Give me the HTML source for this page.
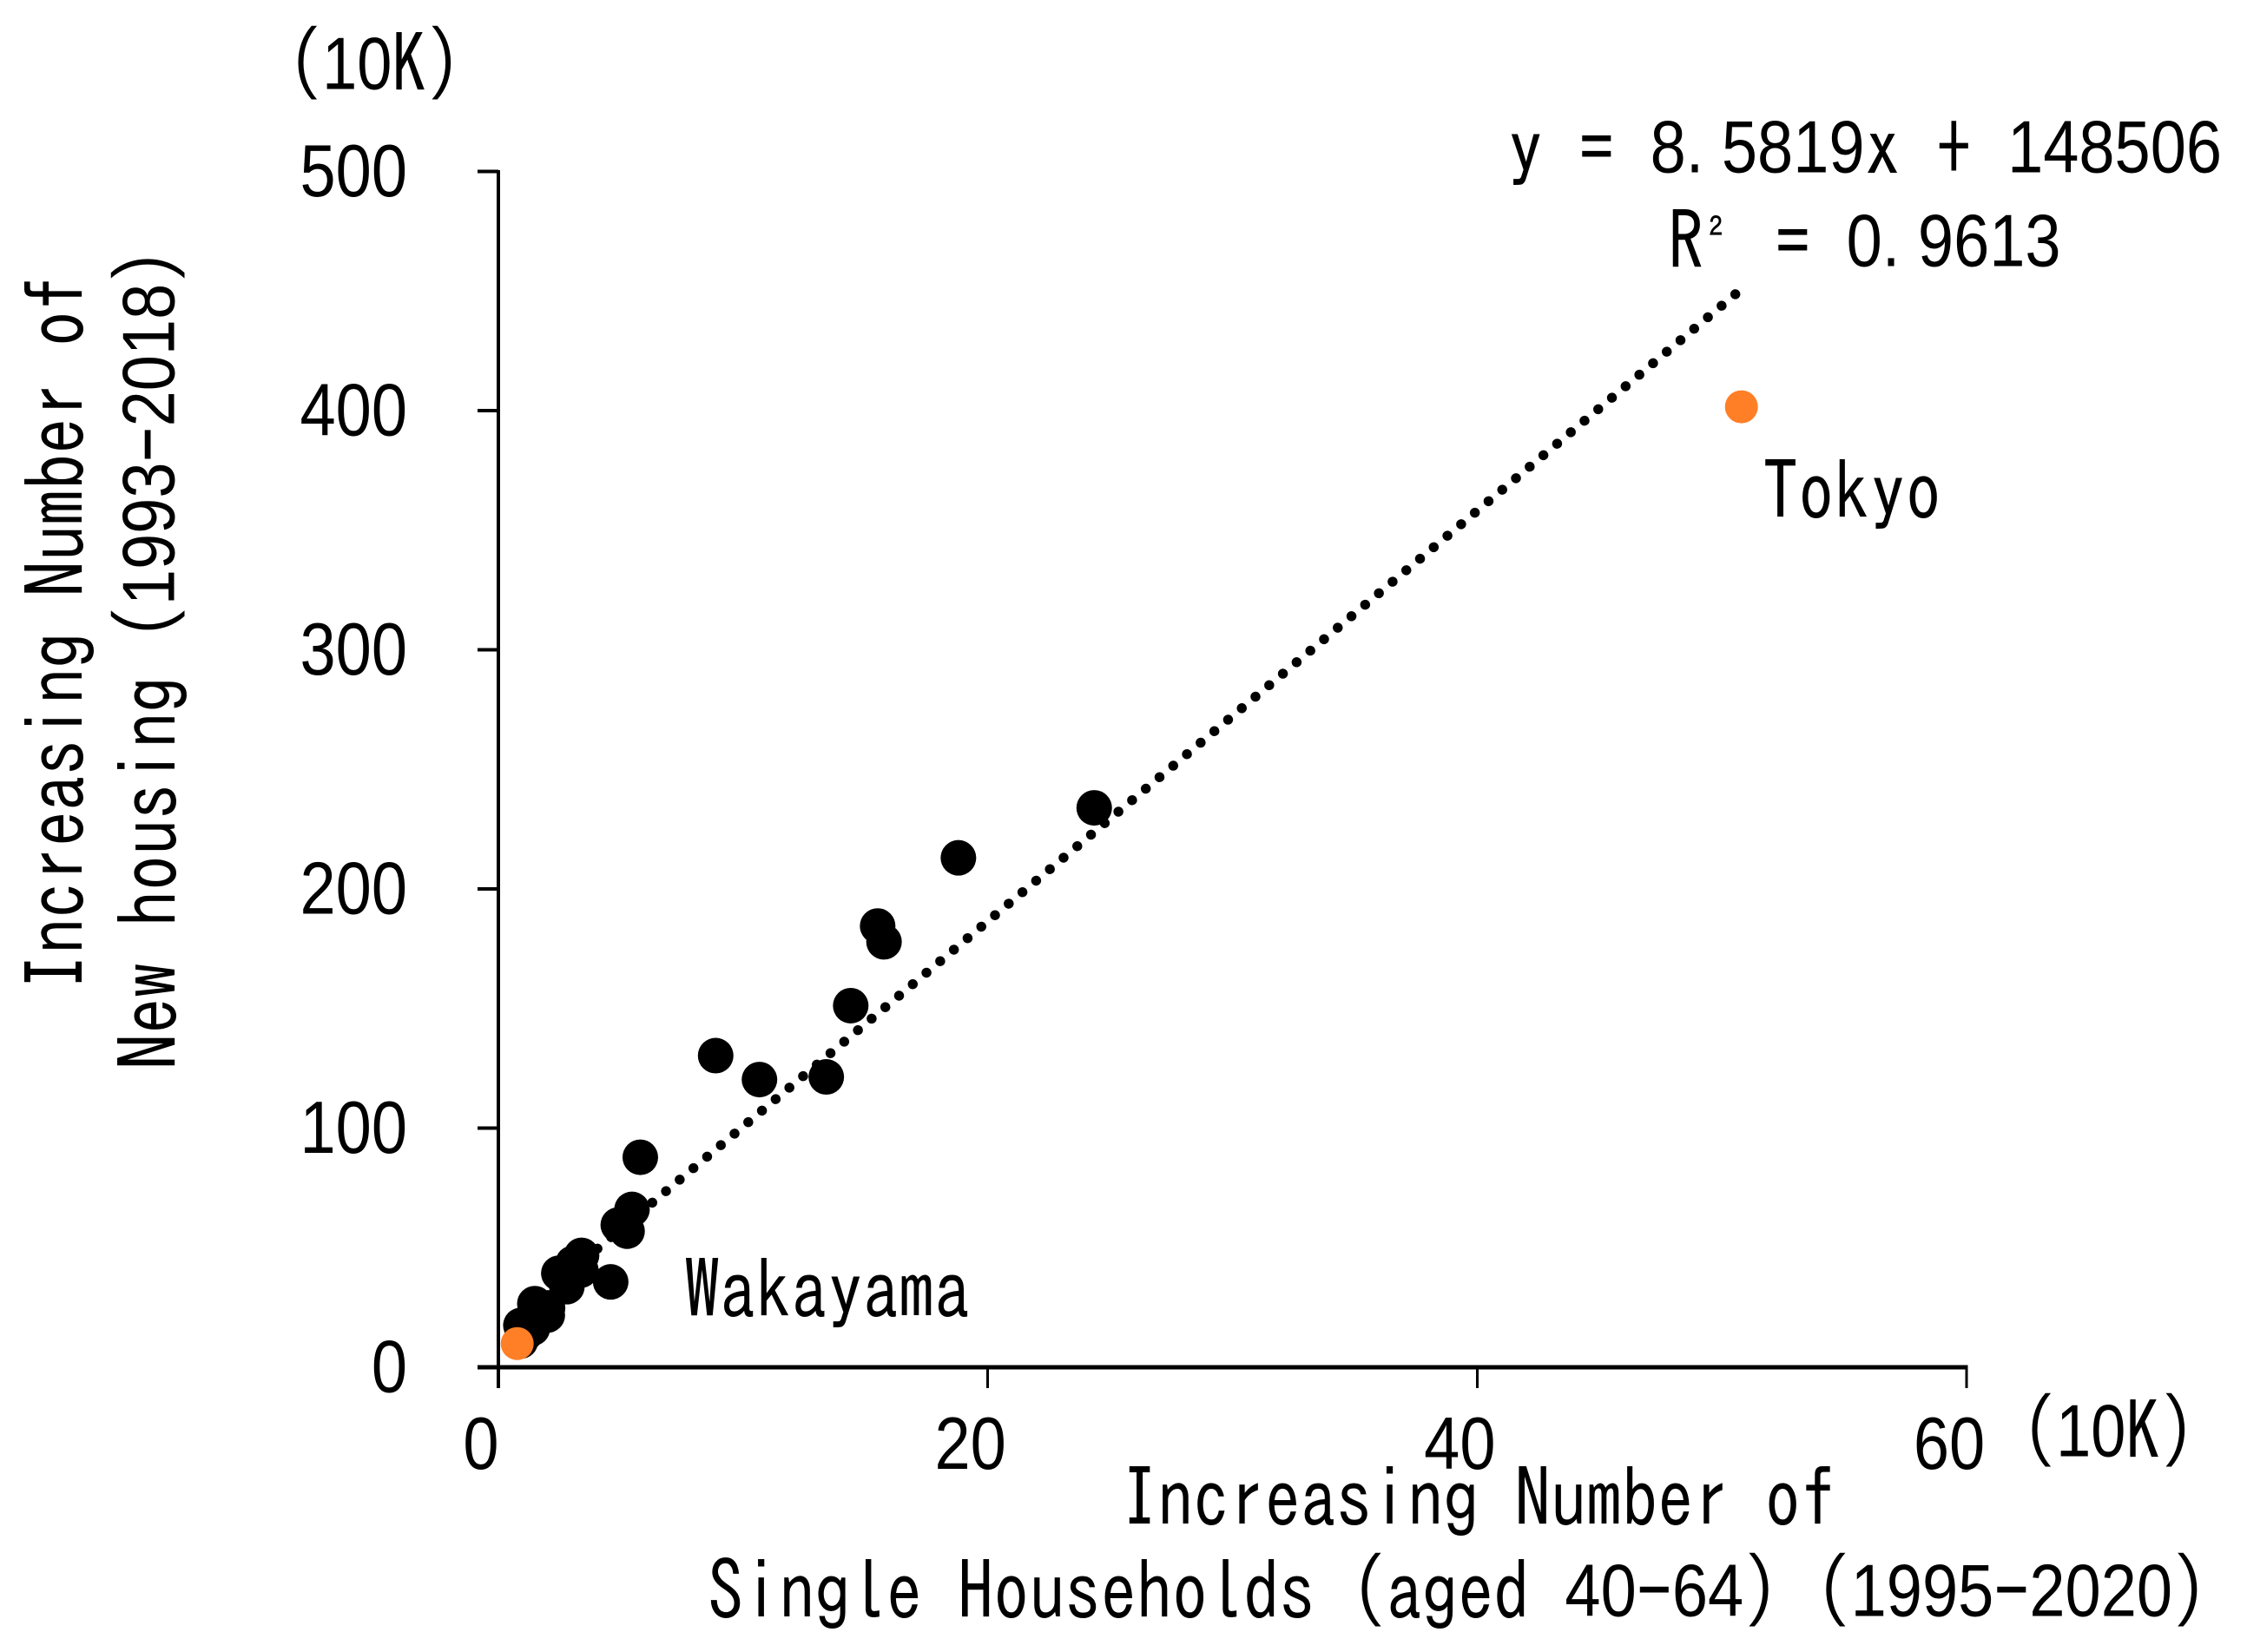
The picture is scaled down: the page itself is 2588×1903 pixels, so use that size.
<!DOCTYPE html>
<html lang="en">
<head>
<meta charset="utf-8">
<title>Single households vs new housing scatter</title>
<style>
html,body{margin:0;padding:0;background:#fff;}
body{width:2588px;height:1903px;overflow:hidden;}
svg{display:block;}
text{font-family:"IPAGothic","Liberation Sans","Noto Sans CJK JP",sans-serif;font-size:82.3px;fill:#000;}
.d{font-family:"Liberation Sans",sans-serif;font-size:74px;}
tspan.d{baseline-shift:4.5px;}
tspan.p{font-family:"Liberation Sans",sans-serif;font-size:74px;letter-spacing:20.6px;baseline-shift:4.5px;}
.s{font-size:56px;letter-spacing:13px;}
</style>
</head>
<body>
<svg id="chart" xmlns="http://www.w3.org/2000/svg" width="2588" height="1903" viewBox="0 0 2588 1903">
  <rect x="0" y="0" width="2588" height="1903" fill="#fff"/>
  <g id="trend"></g>
  <g id="points"></g>
  <g id="axes"></g>
  <text transform="translate(331,108) scale(0.975,1.15)">(<tspan class="d">10</tspan>K)</text>
  <text transform="translate(2328,1683) scale(0.975,1.15)">(<tspan class="d">10</tspan>K)</text>
  <text transform="translate(1292,1760) scale(1,1.15)">Increasing Number of</text>
  <text transform="translate(815,1867) scale(1,1.15)">Single Households (aged <tspan class="d">40</tspan>-<tspan class="d">64</tspan>) (<tspan class="d">1995</tspan>-<tspan class="d">2020</tspan>)</text>
  <text transform="translate(99,1140) rotate(-90) scale(1,1.15)">Increasing Number of</text>
  <text transform="translate(206,1232) rotate(-90) scale(1,1.15)">New housing (<tspan class="d">1993</tspan>-<tspan class="d">2018</tspan>)</text>
  <text transform="translate(1736,204) scale(1,1.15)">y = <tspan class="d">8</tspan><tspan class="p">.</tspan><tspan class="d">5819</tspan>x + <tspan class="d">148506</tspan></text>
  <text transform="translate(1921,312) scale(1,1.15)">R<tspan class="s" dx="4" dy="-8">²</tspan><tspan dx="-4" dy="8"> = </tspan><tspan class="d">0</tspan><tspan class="p">.</tspan><tspan class="d">9613</tspan></text>
  <text transform="translate(2030,600) scale(1,1.15)">Tokyo</text>
  <text transform="translate(788,1520) scale(1,1.15)">Wakayama</text>
</svg>
<script>
const xTickValues = [0, 20, 40, 60];
const yTickValues = [0, 100, 200, 300, 400, 500];
const blackX = [24.35, 18.8, 15.5, 15.76, 14.4, 8.88, 10.67, 13.4, 5.8, 5.46, 4.9, 5.26, 4.59, 3.4, 3.05, 2.47, 2.8, 3.37, 2.8, 1.49, 2.0, 2.01, 1.63, 1.39, 1.28, 0.92, 0.9, 1.1];
const blackY = [233.9, 213, 184.5, 177.9, 151.2, 130.3, 120.3, 121.4, 87.8, 66, 59.5, 56.9, 35.7, 46.8, 43.5, 39.3, 33.7, 40.6, 36, 26.6, 21.8, 24.8, 21.2, 16.3, 18.8, 17.5, 10.9, 14];
const highlightX = [50.8, 0.77];
const highlightY = [401.6, 9.9];
const trendSlope = 8.5819;
const trendIntercept = 14.8506;
const trendStartX = 0.9;
const trendEndX = 50.55;

const NS = 'http://www.w3.org/2000/svg';
const plot = {left: 574, right: 2265, top: 197.5, bottom: 1575, xMax: 60, yMax: 500};
function xScale(v) { return plot.left + v / plot.xMax * (plot.right - plot.left); }
function yScale(v) { return plot.bottom - v / plot.yMax * (plot.bottom - plot.top); }
function make(tag, parent, attrs) {
  const el = document.createElementNS(NS, tag);
  for (const k in attrs) el.setAttribute(k, attrs[k]);
  parent.appendChild(el);
  return el;
}

const trendLayer = document.getElementById('trend');
const pointLayer = document.getElementById('points');
const axisLayer = document.getElementById('axes');

const trendLine = make('line', trendLayer, {
  x1: xScale(trendEndX), y1: yScale(trendSlope * trendEndX + trendIntercept),
  x2: xScale(trendStartX), y2: yScale(trendSlope * trendStartX + trendIntercept),
  stroke: '#000', 'stroke-width': 11.5, 'stroke-linecap': 'round', 'stroke-dasharray': '0.01 20.6'
});



blackX.forEach(function (v, i) {
  const c = make('circle', pointLayer, {cx: xScale(v), cy: yScale(blackY[i]), r: 20.5, fill: '#000'});
  
  
});
highlightX.forEach(function (v, i) {
  const c = make('circle', pointLayer, {cx: xScale(v), cy: yScale(highlightY[i]), r: 19, fill: '#FF7F27'});
  
  
});

const yAxisLine = make('line', axisLayer, {x1: plot.left, x2: plot.left, y1: plot.top - 1.5, y2: plot.bottom + 24, stroke: '#000', 'stroke-width': 4, 'shape-rendering': 'crispEdges'});


const xAxisLine = make('line', axisLayer, {x1: plot.left - 24, x2: plot.right + 1.5, y1: plot.bottom, y2: plot.bottom, stroke: '#000', 'stroke-width': 5, 'shape-rendering': 'crispEdges'});



yTickValues.forEach(function (v) {
  if (v !== 0) {
    const t = make('line', axisLayer, {x1: plot.left - 24, x2: plot.left, y1: yScale(v), y2: yScale(v), stroke: '#000', 'stroke-width': 4, 'shape-rendering': 'crispEdges'});
    
    
  }
  const l = make('text', axisLayer, {transform: 'translate(469,' + (yScale(v) + 28.5) + ') scale(1,1.15)', 'text-anchor': 'end', class: 'd'});
  l.textContent = String(v);
  
  
});
xTickValues.forEach(function (v) {
  if (v !== 0) {
    const t = make('line', axisLayer, {x1: xScale(v), x2: xScale(v), y1: plot.bottom, y2: plot.bottom + 24, stroke: '#000', 'stroke-width': 3, 'shape-rendering': 'crispEdges'});
    
    
  }
  const l = make('text', axisLayer, {transform: 'translate(' + (xScale(v) - 20) + ',1692) scale(1,1.15)', 'text-anchor': 'middle', class: 'd'});
  l.textContent = String(v);
  
  
});
</script>
</body>
</html>
